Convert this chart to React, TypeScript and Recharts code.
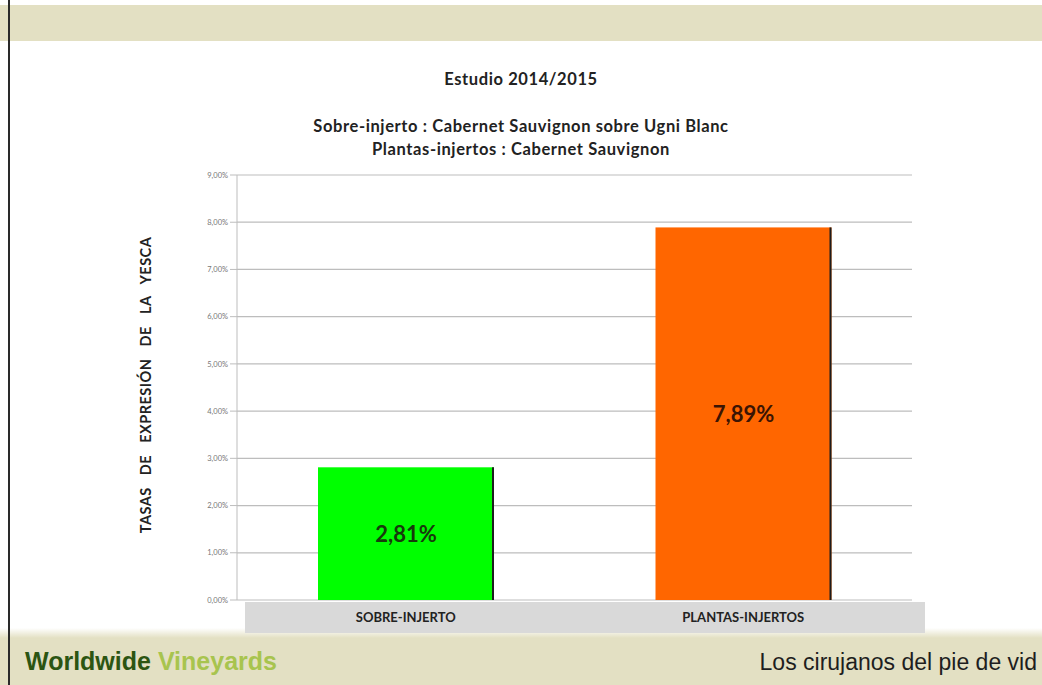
import { Bar, BarChart, CartesianGrid, LabelList, XAxis, YAxis } from 'recharts';

const categories = ['SOBRE-INJERTO', 'PLANTAS-INJERTOS'];
const rates = [2.81, 7.89];
const barColors = ['#00ff00', '#ff6600'];
const labelColors = ['#173a0c', '#3a1404'];
const yTicks = [0, 1, 2, 3, 4, 5, 6, 7, 8, 9];

const data = categories.map((name, i) => ({ name, rate: rates[i] }));

const fmt = (v: number) => v.toFixed(2).replace('.', ',') + '%';

const BEIGE = '#e3e0c3';

function ShadowBar(props: any) {
  const { x, y, width, height, index } = props;
  if (height <= 0) return null;
  return (
    <g>
      <rect x={x} y={y} width={width} height={height} fill={barColors[index]} />
      <rect x={x + width - 2} y={y} width={2} height={height} fill="#1d1d1d" />
    </g>
  );
}

function CategoryTick(props: any) {
  const { x, y, payload, width } = props;
  const bw = width / categories.length;
  return (
    <g>
      <rect x={x - bw / 2 + 8} y={y} width={bw + 5} height={31} fill="#d9d9d9" />
      <text x={x} y={y + 20} textAnchor="middle" fontSize={13} fontWeight={700} fill="#222" fontFamily="Lato, sans-serif">
        {payload.value}
      </text>
    </g>
  );
}

function BarValue(props: any) {
  const { x, y, width, height, index, value } = props;
  return (
    <text x={x + width / 2} y={y + height / 2 + 8} textAnchor="middle" fontSize={22} fontWeight={700}
      fill={labelColors[index]} fontFamily="Lato, sans-serif">
      {fmt(value)}
    </text>
  );
}

const titleStyle: React.CSSProperties = { position: 'absolute', left: 0, width: 1042, textAlign: 'center', fontSize: 16.5, fontWeight: 700, color: '#222', letterSpacing: 0.6 };

export default function App() {
  return (
    <div style={{ position: 'absolute', left: 0, top: 0, width: 1042, height: 685, background: '#fff', overflow: 'hidden', fontFamily: 'Lato, sans-serif' }}>
      <div style={{ position: 'absolute', left: 0, top: 5, width: 1042, height: 36, background: BEIGE }} />
      <div style={{ position: 'absolute', left: 0, top: 628, width: 1042, height: 10, background: `linear-gradient(#fff, ${BEIGE})` }} />
      <div style={{ position: 'absolute', left: 0, top: 638, width: 1042, height: 47, background: BEIGE }} />
      <div style={{ position: 'absolute', left: 8, top: 0, width: 2, height: 685, background: '#2a2a2a' }} />

      <div style={{ ...titleStyle, top: 69 }}>Estudio 2014/2015</div>
      <div style={{ ...titleStyle, top: 115, lineHeight: '23px' }}>
        <div>Sobre-injerto : Cabernet Sauvignon sobre Ugni Blanc</div>
        <div>Plantas-injertos : Cabernet Sauvignon</div>
      </div>

      <div style={{ position: 'absolute', left: 146 - 170, top: 385 - 10, width: 340, height: 20, transform: 'rotate(-90deg)', textAlign: 'center',
        fontSize: 14.5, fontWeight: 700, color: '#222', letterSpacing: 0.5, wordSpacing: 8, lineHeight: '20px', whiteSpace: 'nowrap' }}>
        TASAS DE EXPRESIÓN DE LA YESCA
      </div>

      <div style={{ position: 'absolute', left: 0, top: 0 }}>
        <BarChart width={1042} height={685} data={data} margin={{ top: 175, right: 130, left: 177, bottom: 54 }} barCategoryGap="24%">
          <CartesianGrid vertical={false} stroke="#bdbdbd" strokeWidth={1.2} />
          <XAxis dataKey="name" height={31} tickSize={0} axisLine={false} tickLine={false} tick={<CategoryTick />} interval={0} />
          <YAxis domain={[0, 9]} ticks={yTicks} width={60} tickFormatter={fmt} tick={{ fontSize: 7.5, fill: '#777' }}
            stroke="#bdbdbd" tickSize={7} tickMargin={2} />
          <Bar dataKey="rate" shape={<ShadowBar />} isAnimationActive={false}>
            <LabelList dataKey="rate" content={<BarValue />} />
          </Bar>
        </BarChart>
      </div>

      <div style={{ position: 'absolute', left: 25, top: 647, fontFamily: '"Liberation Sans", Arial, sans-serif', fontSize: 25, fontWeight: 700 }}>
        <span style={{ color: '#2c5512' }}>Worldwide</span> <span style={{ color: '#a8c44e' }}>Vineyards</span>
      </div>
      <div style={{ position: 'absolute', right: 5, top: 649, fontFamily: '"Liberation Sans", Arial, sans-serif', fontSize: 23, color: '#1e1e1e' }}>
        Los cirujanos del pie de vid
      </div>
    </div>
  );
}
